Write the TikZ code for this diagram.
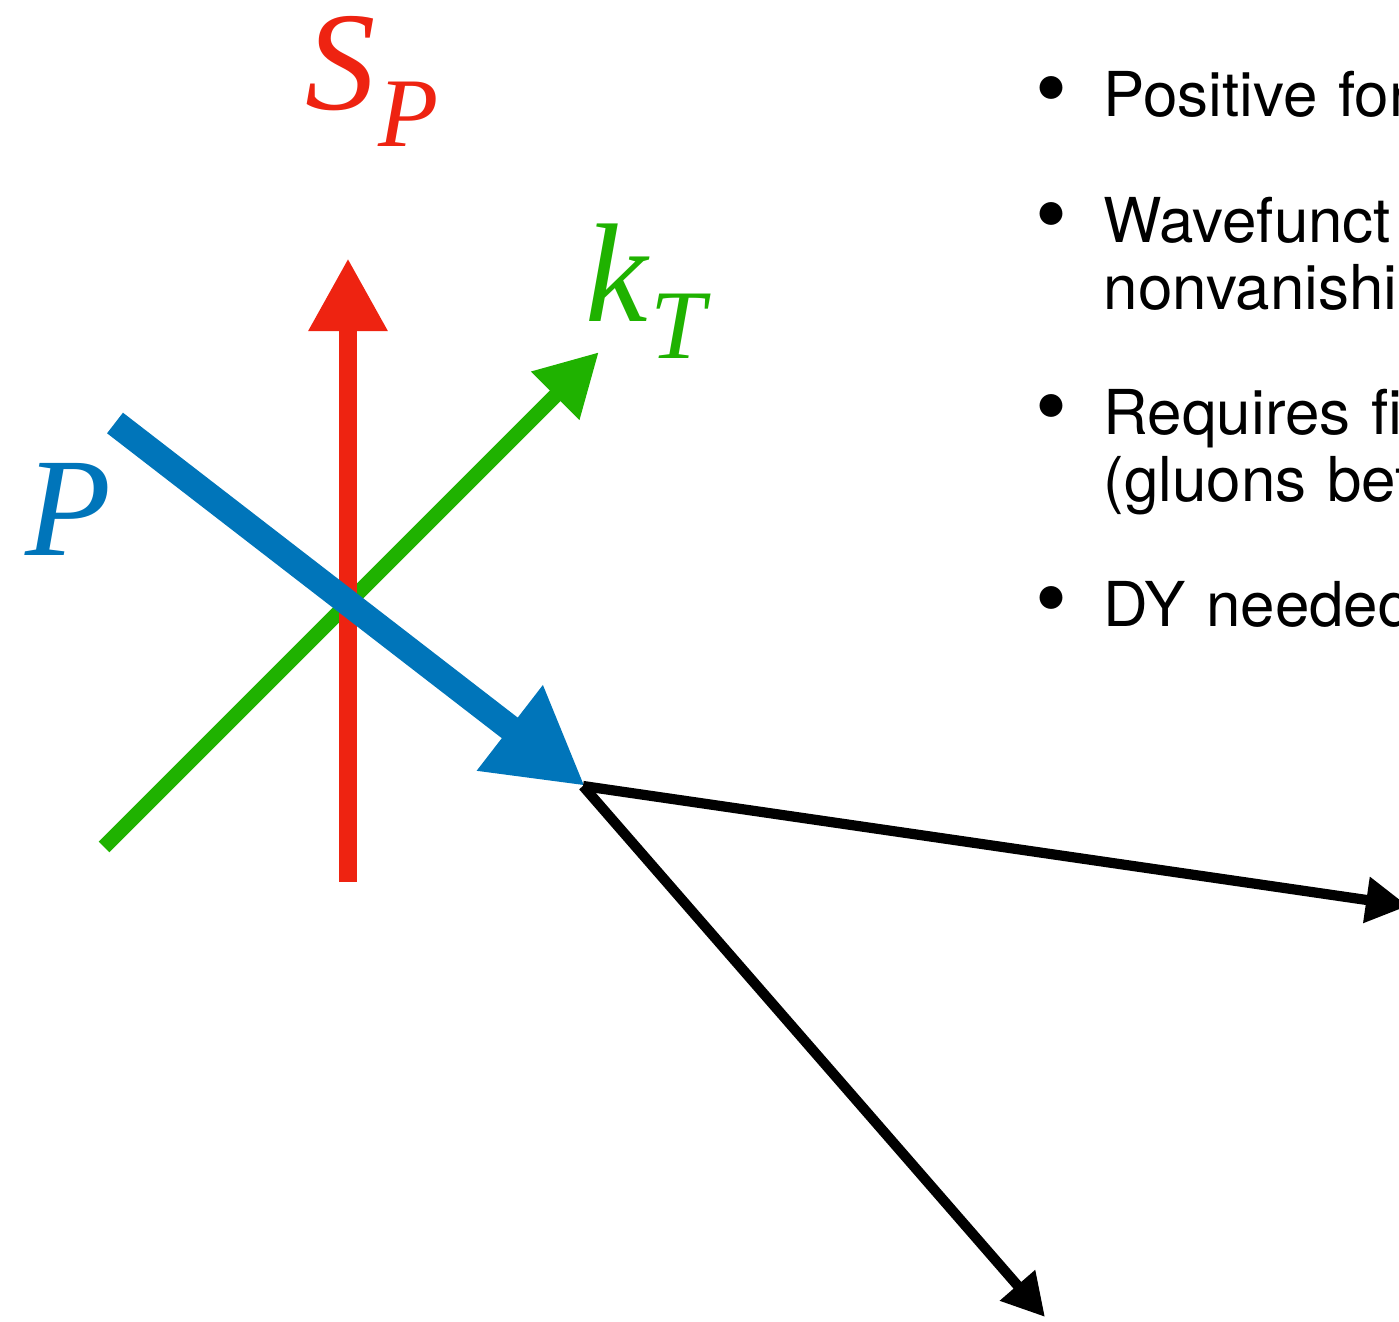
\documentclass[tikz,border=0pt]{standalone}
\usepackage{fontspec}
\setmainfont{TeX Gyre Heros}
\newfontfamily\symfont{Liberation Serif}
\usepackage{xcolor}
\usetikzlibrary{arrows.meta, positioning}
\definecolor{spinred}{HTML}{EE2311}
\definecolor{ktgreen}{HTML}{1FB200}
\definecolor{protonblue}{HTML}{0075BA}
\newcommand{\lowsub}[1]{\kern0.02em\raisebox{-0.36cm}{\fontsize{28pt}{28pt}\selectfont #1}}
\tikzstyle{spinvec}   = [spinred, line width=5.4pt, -{Triangle[length=7.3mm, width=7.4mm]}]
\tikzstyle{ktvec}     = [ktgreen, line width=4.3pt, -{Triangle[length=6.2mm, width=6.4mm]}]
\tikzstyle{pvec}      = [protonblue, line width=7.4pt, -{Triangle[length=9.5mm, width=10.1mm]}]
\tikzstyle{outvec}    = [black, line width=2.9pt, -{Triangle[length=4.2mm, width=4.4mm]}]
\tikzstyle{sym}       = [inner sep=0pt, anchor=base west, font=\symfont\itshape\fontsize{40pt}{40pt}\selectfont]
\tikzstyle{itemtext}  = [inner sep=0pt, anchor=base west, text width=8cm, align=left, font=\fontsize{17.6pt}{19pt}\selectfont]
\tikzstyle{dot}       = [inner sep=0pt, anchor=center, font=\fontsize{26pt}{26pt}\selectfont]

\begin{document}
\begin{tikzpicture}[x=0.01cm, y=-0.01cm]

\clip (0,0) rectangle (1399,1322);

% end points of the vectors
\coordinate (k0) at (104,847);
\coordinate (k1) at (599,352);
\coordinate (s0) at (348,882);
\coordinate (s1) at (348,258);
\coordinate (p0) at (115,423);
\coordinate (p1) at (585,786);
\coordinate (v0) at (583,786);
\coordinate (v1) at (1408,906);
\coordinate (v2) at (1045,1317);

% labels
\node[sym, text=spinred]    (sp) at (305,110) {S\lowsub{P}};
\node[sym, text=ktgreen]    (kt) at (585,322) {k\lowsub{T}};
\node[sym, text=protonblue] (pp) at (25,556)  {P};

% vectors
\draw[ktvec]   (k0) -- (k1);
\draw[spinvec] (s0) -- (s1);
\draw[pvec]    (p0) -- (p1);

% outgoing
\draw[outvec] (v0) -- (v1);
\draw[outvec] (v0) -- (v2);

% bullet list
\node[dot] (b1) at (1051,98)  {\textbullet};
\node[dot] (b2) at (1051,224) {\textbullet};
\node[dot] (b3) at (1051,416) {\textbullet};
\node[dot] (b4) at (1051,608) {\textbullet};
\node[itemtext] (t1) at (1103,117) {Positive for};
\node[itemtext] (t2) at (1103,243) {Wavefunct\\nonvanishi};
\node[itemtext] (t3) at (1103,435) {Requires fi\\(gluons bet};
\node[itemtext] (t4) at (1103,627) {DY needed};

\end{tikzpicture}
\end{document}
